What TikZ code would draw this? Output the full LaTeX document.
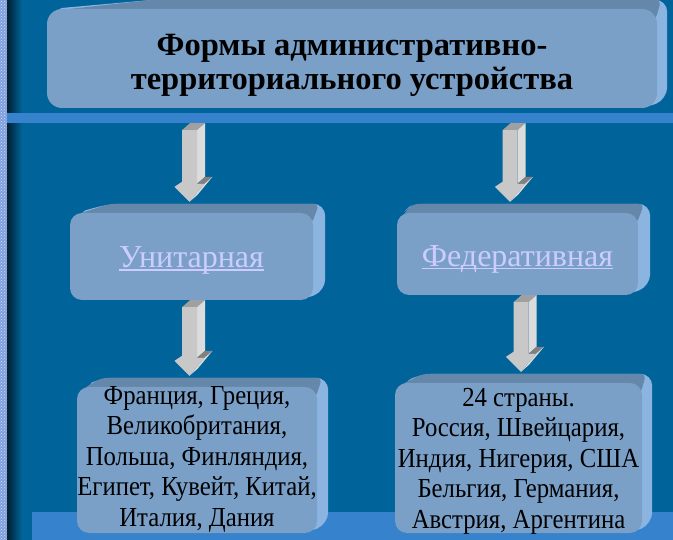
\documentclass[tikz,border=0pt]{standalone}
\usepackage{fontspec}
\setmainfont{Liberation Serif}
\newfontfamily\narrowserif[FakeStretch=0.9]{Liberation Serif}
\usepackage{xcolor}
\usetikzlibrary{calc, patterns}

\definecolor{slidebg}{HTML}{00649B}
\definecolor{slideband}{HTML}{3782CD}
\definecolor{slidestrip}{HTML}{7F9FE0}
\definecolor{facefront}{HTML}{7AA0C8}
\definecolor{facetop}{HTML}{6487AA}
\definecolor{faceside}{HTML}{8CB4E1}
\definecolor{linkcol}{HTML}{CCCCFF}
\definecolor{arrfront}{HTML}{C8C8C8}
\definecolor{arrside}{HTML}{DCDCDC}
\definecolor{arrtop}{HTML}{A0A0A0}

\pgfdeclarelayer{bg}
\pgfdeclarelayer{back}
\pgfsetlayers{bg,back,main}

\newsavebox\linkbox
\newcommand{\linktext}[1]{\sbox\linkbox{#1}\rlap{\rule[-3pt]{\wd\linkbox}{1.2pt}}\usebox\linkbox}

% top and right faces behind a box: node, slant, side depth
\newcommand{\boxdepth}[3]{%
  \begin{pgfonlayer}{back}
    \fill[faceside, rounded corners=12pt] ($(#1.north west)+(6,0)$) -- ($(#1.north west)+(#2,-9)$)
      -- ($(#1.north east)+(#3,-9)$) -- ($(#1.south east)+(#3,-9)$) -- ($(#1.south east)+(-12,0)$) -- cycle;
    \fill[facetop, rounded corners=6pt] ($(#1.north west)+(6,2)$) -- ($(#1.north west)+(#2,-9)$)
      -- ($(#1.north east)+(#3-6,-9)$) -- ($(#1.north east)+(-2,12)$) -- ($(#1.north west)+(6,12)$) -- cycle;
  \end{pgfonlayer}}

% 3d block arrow: from node, to node, x shift, gap below the from node
\newcommand{\blockarrow}[4]{%
  \coordinate (ba-top) at ($(#2.north |- #1.south)+(#3,#4)$);
  \coordinate (ba-tip) at ($(#2.north)+(#3,-11)$);
  \pgfpointdiff{\pgfpointanchor{ba-top}{center}}{\pgfpointanchor{ba-tip}{center}}%
  \pgfgetlastxy{\bax}{\balen}%
  \begin{scope}[shift={(ba-top)}]
    \fill[arrtop] (-7.5pt,0pt) -- (7.5pt,0pt) -- (15.5pt,7pt) -- (0.5pt,7pt) -- cycle;
    \fill[arrside] (7.5pt,0pt) -- (15.5pt,7pt) -- (15.5pt,\balen+25pt) -- (7.5pt,\balen+18pt) -- cycle;
    \fill[arrtop!80!black] (7.5pt,\balen+18pt) -- (15pt,\balen+18pt) -- (23pt,\balen+25pt) -- (15.5pt,\balen+25pt) -- cycle;
    \fill[arrside] (15pt,\balen+18pt) -- (23pt,\balen+25pt) -- (8pt,\balen+7pt) -- (0pt,\balen) -- cycle;
    \fill[arrfront] (-7.5pt,0pt) -- (7.5pt,0pt) -- (7.5pt,\balen+18pt) -- (15pt,\balen+18pt)
      -- (0pt,\balen) -- (-15pt,\balen+15pt) -- (-7.5pt,\balen+20pt) -- cycle;
  \end{scope}}

\begin{document}
\begin{tikzpicture}[
    x=1pt, y=-1pt,
    face/.style={
      rectangle, rounded corners=12pt,
      fill=facefront, inner sep=0pt
    },
    heading/.style={font=\bfseries\fontsize{32.5}{34.5}\selectfont, align=center},
    link/.style={font=\fontsize{32}{34}\selectfont, text=linkcol},
    caselist/.style={font=\narrowserif\fontsize{27.5}{30.5}\selectfont, align=center}
  ]
    \useasboundingbox (0,0) rectangle (673,540);
    \begin{pgfonlayer}{bg}
      \fill[slidebg] (0,0) rectangle (673,540);
      \shade[left color=black!70!slidebg, right color=slidebg] (7,0) rectangle (22,540);
      \fill[slideband] (7,113) rectangle (673,123);
      \fill[slideband] (32,512) rectangle (673,540);
      \fill[slidestrip] (0,0) rectangle (7,540);
      \fill[pattern=crosshatch dots, pattern color=white!70!slidestrip] (0,0) rectangle (7,540);
    \end{pgfonlayer}

    \node[face, rounded corners=15pt, minimum width=610pt, minimum height=99pt] (title) at (352,58.5) {};
    \node[face, minimum width=243pt, minimum height=87pt] (unit) at (191.5,256.5) {};
    \node[face, minimum width=241pt, minimum height=82pt] (fed) at (517.5,254) {};
    \node[face, minimum width=240pt, minimum height=146pt] (unicase) at (197,460) {};
    \node[face, minimum width=247pt, minimum height=150pt] (fedcase) at (518.5,458) {};

    \boxdepth{title}{106}{10}
    \boxdepth{unit}{40}{12}
    \boxdepth{fed}{16}{12}
    \boxdepth{unicase}{25}{11}
    \boxdepth{fedcase}{28}{10}

    \node[heading] (titletext) at ($(title)+(0,7)$) {Формы административно-\\территориального устройства};
    \node[link] (unittext) at ($(unit)+(0,4)$) {\linktext{Унитарная}};
    \node[link] (fedtext) at ($(fed)+(0,5)$) {\linktext{Федеративная}};
    \node[caselist] (unicasetext) at ($(unicase)+(0,-1)$) {Франция, Греция,\\Великобритания,\\Польша, Финляндия,\\Египет, Кувейт, Китай,\\Италия, Дания};
    \node[caselist] (fedcasetext) at ($(fedcase)+(0,3)$) {24 страны.\\Россия, Швейцария,\\Индия, Нигерия, США\\Бельгия, Германия,\\Австрия, Аргентина};

    \blockarrow{title}{unit}{-2}{22}
    \blockarrow{title}{fed}{-7.5}{22}
    \blockarrow{unit}{unicase}{-7.5}{7}
    \blockarrow{fed}{fedcase}{2.5}{7}
\end{tikzpicture}
\end{document}
